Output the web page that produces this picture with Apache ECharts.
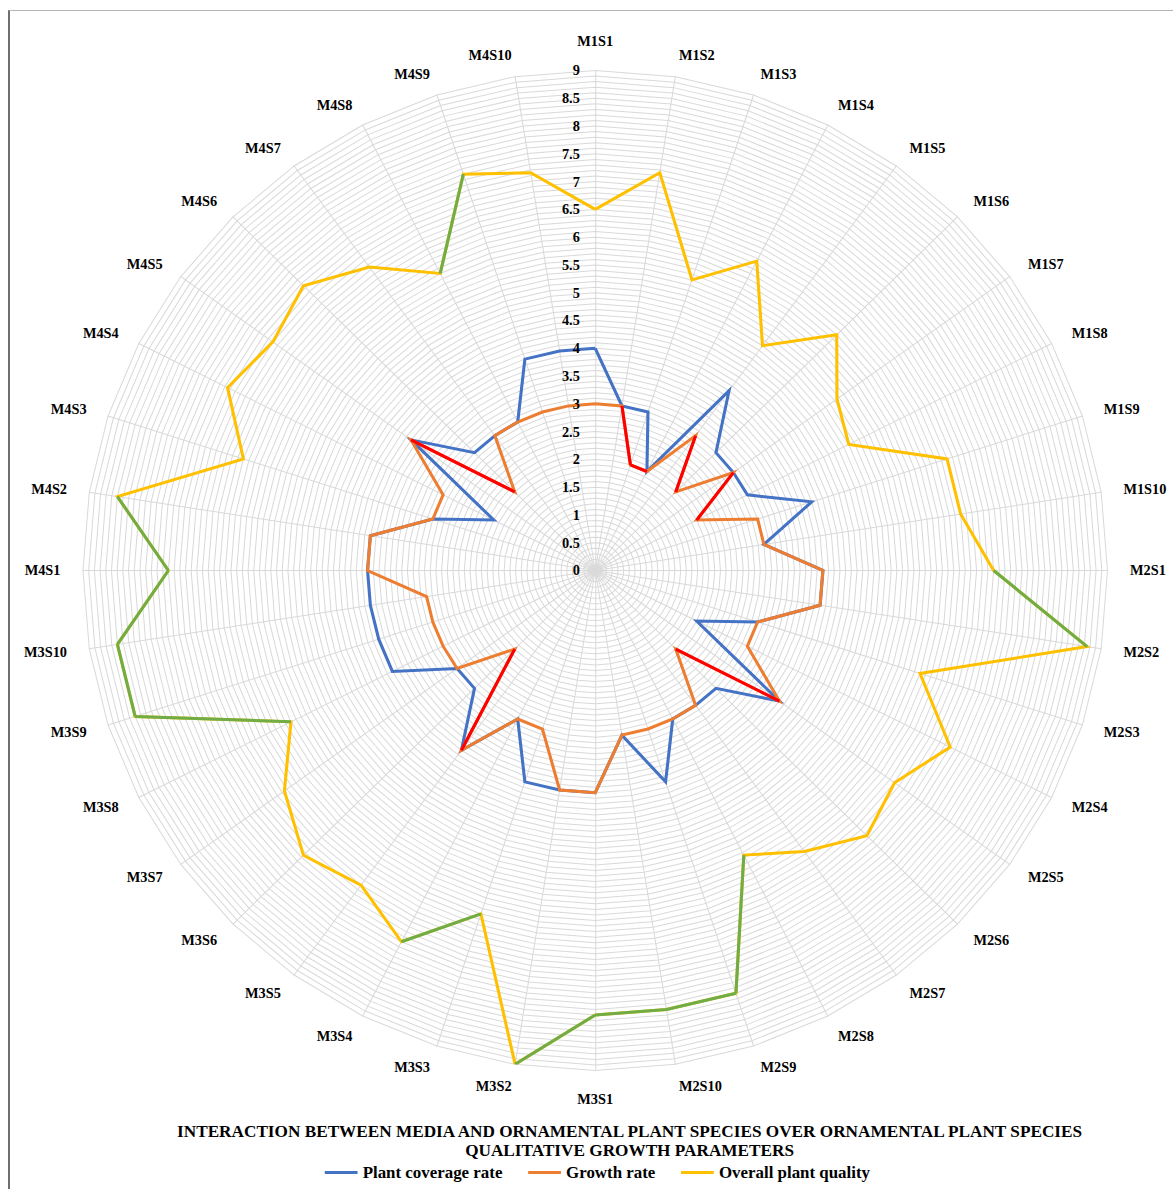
<!DOCTYPE html>
<html>
<head>
<meta charset="utf-8">
<title>Media × ornamental plant species radar</title>
<script src="https://cdn.jsdelivr.net/npm/echarts@6/dist/echarts.min.js"></script>
<style>
  html, body { margin: 0; padding: 0; background: #ffffff; }
  #page { position: relative; width: 1173px; height: 1189px; overflow: hidden; }
  #frame {
    position: absolute; left: 8px; top: 10px; width: 1200px; height: 1300px;
    border-left: 2px solid #6f6f6f; border-top: 1px solid #b4b4b4; box-sizing: border-box;
  }
  /* the plot is slightly wider than tall, so the drawing surface is stretched horizontally */
  #chart { position: absolute; left: 0; top: 0; width: 1145px; height: 1189px;
           transform: scaleX(1.0245); transform-origin: 0 0; }
</style>
</head>
<body>
<div id="page">
  <div id="frame"></div>
  <div id="chart"></div>
</div>
<script>
// Treatments: media (M1–M4) × ornamental species (S1–S10)
const categories = [
  'M1S1','M1S2','M1S3','M1S4','M1S5','M1S6','M1S7','M1S8','M1S9','M1S10',
  'M2S1','M2S2','M2S3','M2S4','M2S5','M2S6','M2S7','M2S8','M2S9','M2S10',
  'M3S1','M3S2','M3S3','M3S4','M3S5','M3S6','M3S7','M3S8','M3S9','M3S10',
  'M4S1','M4S2','M4S3','M4S4','M4S5','M4S6','M4S7','M4S8','M4S9','M4S10'
];

const plantCoverage = [
  4, 3, 3, 2, 4, 3, 3, 3, 4, 3,
  4, 4, 3, 2, 4, 3, 3, 3, 4, 3,
  4, 4, 4, 3, 4, 3, 3, 4, 4, 4,
  4, 4, 3, 2, 4, 3, 3, 3, 4, 4
];

const growthRate = [
  3, 3, 2, 2, 3, 2, 3, 2, 3, 3,
  4, 4, 3, 3, 4, 2, 3, 3, 3, 3,
  4, 4, 3, 3, 4, 2, 3, 3, 3, 3,
  4, 4, 3, 3, 4, 2, 3, 3, 3, 3
];

const plantQuality = [
  6.5, 7.25, 5.5, 6.25, 5, 6, 5.25, 5, 6.5, 6.5,
  7, 8.75, 6, 7, 6.5, 6.75, 6.25, 5.75, 8, 8,
  8, 9, 6.5, 7.5, 7, 7.25, 6.75, 6, 8.5, 8.5,
  7.5, 8.5, 6.5, 7.25, 7, 7.25, 6.75, 6, 7.5, 7.25
];

// Segments running into a low growth score or a high quality score are highlighted
const LOW_GROWTH = 2;
const HIGH_QUALITY = 7.5;

const AXIS_MAX = 9;
const CENTER = [581, 570.5];
const RADIUS = 500;
const FONT = 'Liberation Serif, Times New Roman, serif';

const COLORS = {
  coverage: '#4472C4',
  growth: '#ED7D31',
  quality: '#FFC000',
  lowGrowth: '#FF0000',
  highQuality: '#70AD47'
};

const n = categories.length;

// closed outline on the polar grid: [radius, angle index]
function outline(values) {
  const pts = values.map((v, i) => [v, i]);
  pts.push([values[0], n]);
  return pts;
}

// separate two-point pieces for every segment whose end point passes the test
function highlighted(values, test) {
  const pts = [];
  for (let i = 0; i < n; i++) {
    const j = (i + 1) % n;
    if (test(values[j])) {
      pts.push([values[i], i], [values[j], i + 1], ['-', '-']);
    }
  }
  return pts;
}

// radar indicators run counter-clockwise, so list them in reverse after the first
const radarOrder = [0];
for (let i = n - 1; i >= 1; i--) radarOrder.push(i);

function lineSeries(name, data, color, z) {
  return {
    type: 'line',
    name: name,
    coordinateSystem: 'polar',
    data: data,
    symbol: 'none',
    connectNulls: false,
    silent: true,
    z: z,
    itemStyle: { color: color },
    lineStyle: { color: color, width: 3, join: 'miter' }
  };
}

const chart = echarts.init(document.getElementById('chart'), null, { renderer: 'svg' });

chart.setOption({
  animation: false,
  backgroundColor: 'transparent',
  title: {
    text: 'INTERACTION BETWEEN MEDIA AND ORNAMENTAL PLANT SPECIES OVER ORNAMENTAL PLANT SPECIES\nQUALITATIVE GROWTH PARAMETERS',
    left: 614.5,
    top: 1122,
    padding: 0,
    textAlign: 'center',
    textStyle: { fontFamily: FONT, fontWeight: 'bold', fontSize: 16.8, color: '#000', lineHeight: 19 }
  },
  legend: {
    data: ['Plant coverage rate', 'Growth rate', 'Overall plant quality'],
    left: 317,
    top: 1164,
    padding: 0,
    itemGap: 25,
    itemWidth: 32,
    itemHeight: 3,
    icon: 'rect',
    textStyle: { fontFamily: FONT, fontWeight: 'bold', fontSize: 16.5, color: '#000' }
  },
  radar: {
    center: CENTER,
    radius: RADIUS,
    startAngle: 90,
    splitNumber: 90,
    shape: 'polygon',
    axisNameGap: 22,
    axisName: { color: '#000', fontFamily: FONT, fontWeight: 'bold', fontSize: 14 },
    indicator: radarOrder.map(i => ({ name: categories[i], min: 0, max: AXIS_MAX })),
    axisLine: { lineStyle: { color: '#d9d9d9', width: 1 } },
    axisTick: { show: false },
    axisLabel: { show: false },
    splitLine: { lineStyle: { color: '#d9d9d9', width: 1 } },
    splitArea: { show: false }
  },
  polar: { center: CENTER, radius: RADIUS },
  angleAxis: {
    type: 'value', min: 0, max: n, startAngle: 90, clockwise: true,
    axisLine: { show: false }, axisTick: { show: false },
    axisLabel: { show: false }, splitLine: { show: false }
  },
  radiusAxis: {
    type: 'value', min: 0, max: AXIS_MAX, interval: 0.5, z: 10,
    axisLine: { show: false }, axisTick: { show: false }, splitLine: { show: false },
    axisLabel: { fontFamily: FONT, fontWeight: 'bold', fontSize: 14, color: '#000', margin: 15 }
  },
  series: [
    lineSeries('Plant coverage rate', outline(plantCoverage), COLORS.coverage, 2),
    lineSeries('Growth rate', outline(growthRate), COLORS.growth, 3),
    lineSeries('Low growth', highlighted(growthRate, v => v <= LOW_GROWTH), COLORS.lowGrowth, 4),
    lineSeries('Overall plant quality', outline(plantQuality), COLORS.quality, 5),
    lineSeries('High quality', highlighted(plantQuality, v => v >= HIGH_QUALITY), COLORS.highQuality, 6)
  ]
});
</script>
</body>
</html>
